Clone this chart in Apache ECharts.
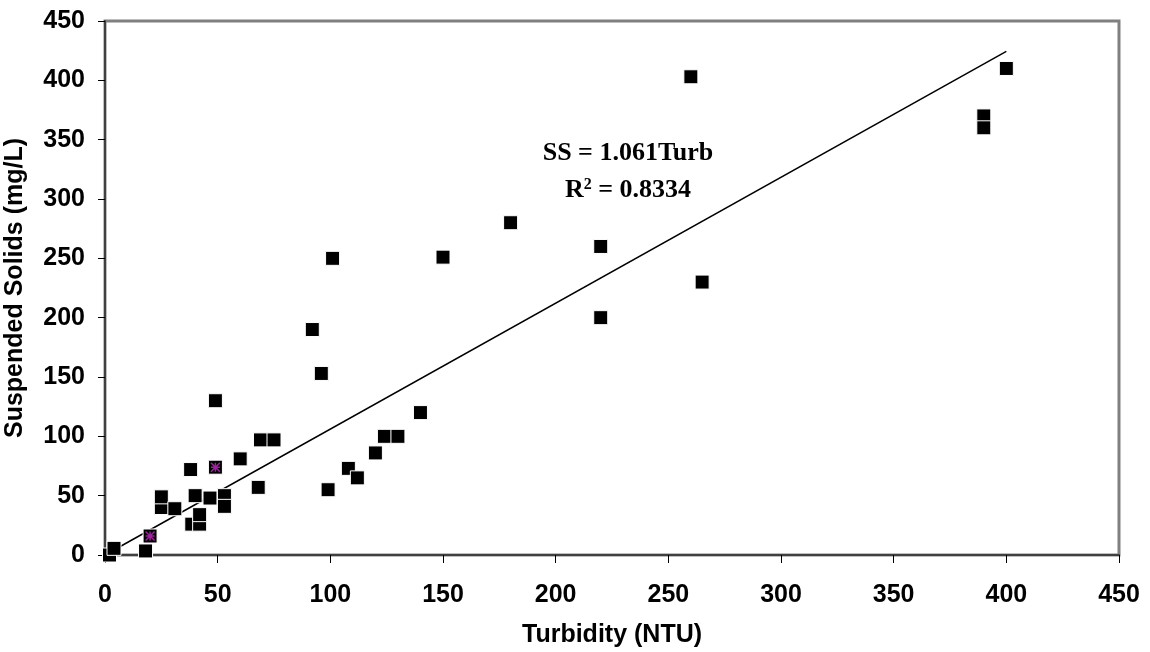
<!DOCTYPE html>
<html>
<head>
<meta charset="utf-8">
<script src="https://cdn.jsdelivr.net/npm/echarts@6/dist/echarts.min.js"></script>
<style>
html,body{margin:0;padding:0;background:#fff;}
#chart{width:1150px;height:652px;}
</style>
</head>
<body>
<div id="chart"></div>
<script>
// Measured data: [Turbidity (NTU), Suspended Solids (mg/L)]
var squarePoints = [
  [2, 0], [4, 5.6], [18, 3.4], [20, 16], [25, 40], [25, 49], [31, 39],
  [38, 72], [38.5, 26], [42, 26], [42, 34], [40, 50], [46.6, 48], [49, 74],
  [49, 130], [53, 50], [53, 41], [60, 81], [68, 57], [69, 97], [75, 97],
  [92, 190], [96, 153], [99, 55], [101, 250], [108, 73], [112, 65],
  [120, 86], [124, 100], [130, 100], [140, 120], [150, 251], [180, 280],
  [220, 260], [220, 200], [260, 403], [265, 230], [390, 370], [390, 360],
  [400, 410]
];
var starPoints = [[20, 16], [49, 74]];
var slope = 1.061;
var fitRange = [0, 400];
var xTicks = [0, 50, 100, 150, 200, 250, 300, 350, 400, 450];
var yTicks = [0, 50, 100, 150, 200, 250, 300, 350, 400, 450];
var eqLine1 = 'SS = 1.061Turb';
var eqR2 = '0.8334';

var fitLine = fitRange.map(function (x) { return [x, slope * x]; });

var chart = echarts.init(document.getElementById('chart'), null, {renderer: 'canvas'});
var labelFont = {fontFamily: 'Liberation Sans, Arial, sans-serif', fontWeight: 'bold', fontSize: 25, color: '#000'};
var serif = 'Liberation Serif, Times New Roman, serif';

chart.setOption({
  animation: false,
  backgroundColor: '#fff',
  grid: {left: 105, right: 31, top: 21, bottom: 97, containLabel: false, outerBoundsMode: 'none',
         show: true, borderColor: '#808080', borderWidth: 3, backgroundColor: '#fff'},
  xAxis: {
    type: 'value', min: xTicks[0], max: xTicks[xTicks.length - 1], interval: 50,
    name: 'Turbidity (NTU)', nameLocation: 'middle', nameGap: 68,
    nameTextStyle: labelFont,
    axisLine: {show: true, lineStyle: {color: '#404040', width: 2}},
    axisTick: {show: true, length: 8, lineStyle: {color: '#000', width: 1}},
    axisLabel: Object.assign({margin: 28}, labelFont),
    splitLine: {show: false}
  },
  yAxis: {
    type: 'value', min: yTicks[0], max: yTicks[yTicks.length - 1], interval: 50,
    name: 'Suspended Solids (mg/L)', nameLocation: 'middle', nameGap: 77, nameRotate: 90,
    nameTextStyle: labelFont,
    axisLine: {show: true, lineStyle: {color: '#404040', width: 2}},
    axisTick: {show: true, length: 7, lineStyle: {color: '#000', width: 1}},
    axisLabel: Object.assign({margin: 20}, labelFont),
    splitLine: {show: false}
  },
  series: [
    {
      type: 'scatter', data: squarePoints, symbol: 'rect', symbolSize: 14,
      itemStyle: {color: '#000', opacity: 1, borderColor: '#fff', borderWidth: 1}, z: 3
    },
    {
      type: 'scatter', data: starPoints, symbolSize: 9,
      symbol: 'path://M0,0L10,10M10,0L0,10M5,0L5,10M0,5L10,5',
      itemStyle: {color: 'rgba(0,0,0,0)', opacity: 1, borderColor: '#a020a0', borderWidth: 1.5}, z: 4
    },
    {
      type: 'line', data: fitLine, showSymbol: false, symbol: 'none',
      lineStyle: {color: '#000', width: 1.5}, z: 2
    }
  ],
  graphic: [
    {
      type: 'text', x: 628, y: 153, z: 10,
      style: {
        text: eqLine1, align: 'center', verticalAlign: 'middle',
        font: 'bold 26px ' + serif, fill: '#000'
      }
    },
    {
      type: 'text', x: 628, y: 190, z: 10,
      style: {
        text: '{a|R}{s|2}{a| = ' + eqR2 + '}', align: 'center', verticalAlign: 'middle',
        rich: {
          a: {fontFamily: serif, fontWeight: 'bold', fontSize: 26, fill: '#000', verticalAlign: 'bottom'},
          s: {fontFamily: serif, fontWeight: 'bold', fontSize: 16, fill: '#000', verticalAlign: 'top'}
        }
      }
    }
  ]
});
</script>
</body>
</html>
